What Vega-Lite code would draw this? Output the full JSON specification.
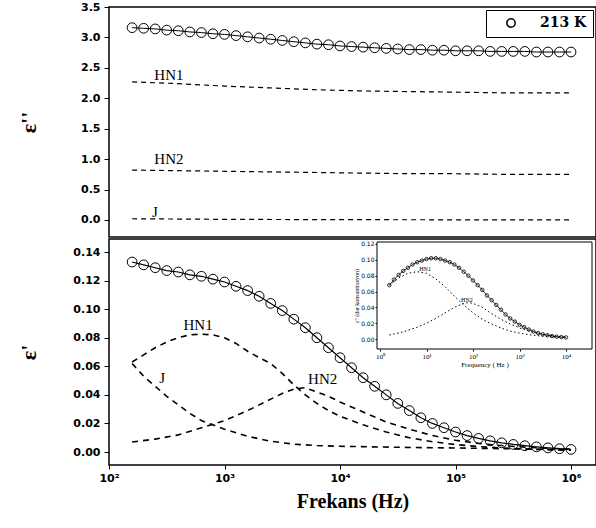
{
  "$schema": "https://vega.github.io/schema/vega-lite/v6.json",
  "padding": {"left": 16, "top": 0, "right": 2, "bottom": 5},
  "background": "white",
  "config": {
    "view": {"stroke": "black", "strokeWidth": 1.5},
    "axis": {
      "grid": false, "domainColor": "black", "tickColor": "black", "labelColor": "black",
      "titleColor": "black", "labelFont": "DejaVu Sans", "labelFontWeight": "bold", "labelFontSize": 11,
      "titleFont": "Liberation Serif", "titleFontWeight": "bold", "labelOverlap": false, "labelBound": false, "labelFlush": false
    }
  },
  "datasets": {
    "top": [
      {"f":158.5,"v":3.16,"s":"213 K"},{"f":199.5,"v":3.15,"s":"213 K"},{"f":251.2,"v":3.14,"s":"213 K"},{"f":316.2,"v":3.12,"s":"213 K"},
      {"f":398.1,"v":3.11,"s":"213 K"},{"f":501.2,"v":3.09,"s":"213 K"},{"f":631,"v":3.08,"s":"213 K"},{"f":794.3,"v":3.06,"s":"213 K"},
      {"f":1000,"v":3.05,"s":"213 K"},{"f":1259,"v":3.03,"s":"213 K"},{"f":1585,"v":3.01,"s":"213 K"},{"f":1995,"v":2.99,"s":"213 K"},
      {"f":2512,"v":2.97,"s":"213 K"},{"f":3162,"v":2.95,"s":"213 K"},{"f":3981,"v":2.93,"s":"213 K"},{"f":5012,"v":2.91,"s":"213 K"},
      {"f":6310,"v":2.89,"s":"213 K"},{"f":7943,"v":2.88,"s":"213 K"},{"f":10000,"v":2.86,"s":"213 K"},{"f":12589,"v":2.85,"s":"213 K"},
      {"f":15849,"v":2.84,"s":"213 K"},{"f":19953,"v":2.83,"s":"213 K"},{"f":25119,"v":2.82,"s":"213 K"},{"f":31623,"v":2.81,"s":"213 K"},
      {"f":39811,"v":2.8,"s":"213 K"},{"f":50119,"v":2.8,"s":"213 K"},{"f":63096,"v":2.79,"s":"213 K"},{"f":79433,"v":2.79,"s":"213 K"},
      {"f":100000,"v":2.78,"s":"213 K"},{"f":125893,"v":2.78,"s":"213 K"},{"f":158489,"v":2.78,"s":"213 K"},{"f":199526,"v":2.77,"s":"213 K"},
      {"f":251189,"v":2.77,"s":"213 K"},{"f":316228,"v":2.77,"s":"213 K"},{"f":398107,"v":2.77,"s":"213 K"},{"f":501187,"v":2.76,"s":"213 K"},
      {"f":630957,"v":2.76,"s":"213 K"},{"f":794328,"v":2.76,"s":"213 K"},{"f":1000000,"v":2.76,"s":"213 K"},
      {"f":158.5,"v":2.27,"s":"HN1"},{"f":398.1,"v":2.24,"s":"HN1"},{"f":1000,"v":2.2,"s":"HN1"},{"f":2512,"v":2.17,"s":"HN1"},
      {"f":6310,"v":2.14,"s":"HN1"},{"f":15849,"v":2.12,"s":"HN1"},{"f":39811,"v":2.11,"s":"HN1"},{"f":100000,"v":2.1,"s":"HN1"},
      {"f":251189,"v":2.09,"s":"HN1"},{"f":1000000,"v":2.09,"s":"HN1"},
      {"f":158.5,"v":0.82,"s":"HN2"},{"f":398.1,"v":0.81,"s":"HN2"},{"f":1000,"v":0.8,"s":"HN2"},{"f":2512,"v":0.79,"s":"HN2"},
      {"f":6310,"v":0.78,"s":"HN2"},{"f":15849,"v":0.77,"s":"HN2"},{"f":39811,"v":0.76,"s":"HN2"},{"f":100000,"v":0.76,"s":"HN2"},
      {"f":251189,"v":0.75,"s":"HN2"},{"f":1000000,"v":0.75,"s":"HN2"},
      {"f":158.5,"v":0.02,"s":"J"},{"f":1000,"v":0.01,"s":"J"},{"f":10000,"v":0.005,"s":"J"},{"f":1000000,"v":0.0,"s":"J"}
    ],
    "topLab": [
      {"f":330,"v":2.38,"t":"HN1"},{"f":330,"v":1.0,"t":"HN2"},{"f":250,"v":0.13,"t":"J"}
    ],
    "bot": [
      {"f":158.5,"v":0.133,"s":"exp"},{"f":199.5,"v":0.131,"s":"exp"},{"f":251.2,"v":0.129,"s":"exp"},{"f":316.2,"v":0.127,"s":"exp"},
      {"f":398.1,"v":0.126,"s":"exp"},{"f":501.2,"v":0.124,"s":"exp"},{"f":631,"v":0.123,"s":"exp"},{"f":794.3,"v":0.121,"s":"exp"},
      {"f":1000,"v":0.119,"s":"exp"},{"f":1259,"v":0.116,"s":"exp"},{"f":1585,"v":0.113,"s":"exp"},{"f":1995,"v":0.109,"s":"exp"},
      {"f":2512,"v":0.104,"s":"exp"},{"f":3162,"v":0.099,"s":"exp"},{"f":3981,"v":0.093,"s":"exp"},{"f":5012,"v":0.087,"s":"exp"},
      {"f":6310,"v":0.08,"s":"exp"},{"f":7943,"v":0.073,"s":"exp"},{"f":10000,"v":0.066,"s":"exp"},{"f":12589,"v":0.059,"s":"exp"},
      {"f":15849,"v":0.052,"s":"exp"},{"f":19953,"v":0.046,"s":"exp"},{"f":25119,"v":0.04,"s":"exp"},{"f":31623,"v":0.034,"s":"exp"},
      {"f":39811,"v":0.029,"s":"exp"},{"f":50119,"v":0.024,"s":"exp"},{"f":63096,"v":0.02,"s":"exp"},{"f":79433,"v":0.017,"s":"exp"},
      {"f":100000,"v":0.014,"s":"exp"},{"f":125893,"v":0.0115,"s":"exp"},{"f":158489,"v":0.0095,"s":"exp"},{"f":199526,"v":0.0078,"s":"exp"},
      {"f":251189,"v":0.0064,"s":"exp"},{"f":316228,"v":0.0053,"s":"exp"},{"f":398107,"v":0.0044,"s":"exp"},{"f":501187,"v":0.0036,"s":"exp"},
      {"f":630957,"v":0.0029,"s":"exp"},{"f":794328,"v":0.0023,"s":"exp"},{"f":1000000,"v":0.0018,"s":"exp"},
      {"f":158.5,"v":0.063,"s":"HN1"},{"f":199.5,"v":0.068,"s":"HN1"},{"f":251.2,"v":0.073,"s":"HN1"},{"f":316.2,"v":0.077,"s":"HN1"},
      {"f":398.1,"v":0.08,"s":"HN1"},{"f":501.2,"v":0.082,"s":"HN1"},{"f":631,"v":0.0825,"s":"HN1"},{"f":794.3,"v":0.082,"s":"HN1"},
      {"f":1000,"v":0.08,"s":"HN1"},{"f":1259,"v":0.076,"s":"HN1"},{"f":1585,"v":0.0705,"s":"HN1"},{"f":1995,"v":0.066,"s":"HN1"},
      {"f":2512,"v":0.062,"s":"HN1"},{"f":3162,"v":0.055,"s":"HN1"},{"f":3981,"v":0.047,"s":"HN1"},{"f":5012,"v":0.04,"s":"HN1"},
      {"f":6310,"v":0.034,"s":"HN1"},{"f":7943,"v":0.029,"s":"HN1"},{"f":10000,"v":0.025,"s":"HN1"},{"f":15849,"v":0.019,"s":"HN1"},
      {"f":25119,"v":0.014,"s":"HN1"},{"f":39811,"v":0.01,"s":"HN1"},{"f":63096,"v":0.0072,"s":"HN1"},{"f":100000,"v":0.0052,"s":"HN1"},
      {"f":158489,"v":0.0038,"s":"HN1"},{"f":251189,"v":0.0028,"s":"HN1"},{"f":398107,"v":0.0021,"s":"HN1"},{"f":630957,"v":0.0016,"s":"HN1"},
      {"f":1000000,"v":0.0012,"s":"HN1"},
      {"f":158.5,"v":0.007,"s":"HN2"},{"f":251.2,"v":0.009,"s":"HN2"},{"f":398.1,"v":0.012,"s":"HN2"},{"f":631,"v":0.017,"s":"HN2"},
      {"f":1000,"v":0.022,"s":"HN2"},{"f":1585,"v":0.029,"s":"HN2"},{"f":2512,"v":0.037,"s":"HN2"},{"f":3162,"v":0.041,"s":"HN2"},
      {"f":3981,"v":0.044,"s":"HN2"},{"f":5012,"v":0.045,"s":"HN2"},{"f":6310,"v":0.042,"s":"HN2"},{"f":7943,"v":0.039,"s":"HN2"},
      {"f":10000,"v":0.035,"s":"HN2"},{"f":15849,"v":0.028,"s":"HN2"},{"f":25119,"v":0.021,"s":"HN2"},{"f":39811,"v":0.016,"s":"HN2"},
      {"f":63096,"v":0.0115,"s":"HN2"},{"f":100000,"v":0.0082,"s":"HN2"},{"f":158489,"v":0.006,"s":"HN2"},{"f":251189,"v":0.0045,"s":"HN2"},
      {"f":398107,"v":0.0034,"s":"HN2"},{"f":630957,"v":0.0026,"s":"HN2"},{"f":1000000,"v":0.002,"s":"HN2"},
      {"f":158.5,"v":0.062,"s":"J"},{"f":199.5,"v":0.053,"s":"J"},{"f":251.2,"v":0.046,"s":"J"},{"f":316.2,"v":0.039,"s":"J"},
      {"f":398.1,"v":0.033,"s":"J"},{"f":501.2,"v":0.027,"s":"J"},{"f":631,"v":0.022,"s":"J"},{"f":794.3,"v":0.019,"s":"J"},
      {"f":1000,"v":0.016,"s":"J"},{"f":1585,"v":0.011,"s":"J"},{"f":2512,"v":0.0075,"s":"J"},{"f":3981,"v":0.0055,"s":"J"},
      {"f":6310,"v":0.0045,"s":"J"},{"f":10000,"v":0.004,"s":"J"},{"f":31623,"v":0.0033,"s":"J"},{"f":100000,"v":0.0028,"s":"J"},
      {"f":316228,"v":0.0022,"s":"J"},{"f":1000000,"v":0.0016,"s":"J"}
    ],
    "botLab": [
      {"f":590,"v":0.089,"t":"HN1"},{"f":288,"v":0.0518,"t":"J"},{"f":7080,"v":0.0511,"t":"HN2"}
    ],
    "ins": [
      {"f":1.585,"v":0.068,"s":"exp"},{"f":1.995,"v":0.075,"s":"exp"},{"f":2.512,"v":0.081,"s":"exp"},{"f":3.162,"v":0.086,"s":"exp"},
      {"f":3.981,"v":0.09,"s":"exp"},{"f":5.012,"v":0.094,"s":"exp"},{"f":6.31,"v":0.097,"s":"exp"},{"f":7.943,"v":0.099,"s":"exp"},
      {"f":10,"v":0.101,"s":"exp"},{"f":12.59,"v":0.102,"s":"exp"},{"f":15.85,"v":0.102,"s":"exp"},{"f":19.95,"v":0.101,"s":"exp"},
      {"f":25.12,"v":0.099,"s":"exp"},{"f":31.62,"v":0.097,"s":"exp"},{"f":39.81,"v":0.094,"s":"exp"},{"f":50.12,"v":0.09,"s":"exp"},
      {"f":63.1,"v":0.085,"s":"exp"},{"f":79.43,"v":0.08,"s":"exp"},{"f":100,"v":0.074,"s":"exp"},{"f":125.9,"v":0.068,"s":"exp"},
      {"f":158.5,"v":0.062,"s":"exp"},{"f":199.5,"v":0.055,"s":"exp"},{"f":251.2,"v":0.049,"s":"exp"},{"f":316.2,"v":0.043,"s":"exp"},
      {"f":398.1,"v":0.037,"s":"exp"},{"f":501.2,"v":0.031,"s":"exp"},{"f":631,"v":0.026,"s":"exp"},{"f":794.3,"v":0.022,"s":"exp"},
      {"f":1000,"v":0.018,"s":"exp"},{"f":1259,"v":0.015,"s":"exp"},{"f":1585,"v":0.012,"s":"exp"},{"f":1995,"v":0.0095,"s":"exp"},
      {"f":2512,"v":0.0075,"s":"exp"},{"f":3162,"v":0.006,"s":"exp"},{"f":3981,"v":0.0048,"s":"exp"},{"f":5012,"v":0.0038,"s":"exp"},
      {"f":6310,"v":0.003,"s":"exp"},{"f":7943,"v":0.0024,"s":"exp"},{"f":10000,"v":0.002,"s":"exp"},
      {"f":1.585,"v":0.068,"s":"HN1"},{"f":2.512,"v":0.077,"s":"HN1"},{"f":3.981,"v":0.083,"s":"HN1"},{"f":6.31,"v":0.085,"s":"HN1"},
      {"f":10,"v":0.083,"s":"HN1"},{"f":15.85,"v":0.076,"s":"HN1"},{"f":25.12,"v":0.066,"s":"HN1"},{"f":39.81,"v":0.054,"s":"HN1"},
      {"f":63.1,"v":0.043,"s":"HN1"},{"f":100,"v":0.033,"s":"HN1"},{"f":158.5,"v":0.025,"s":"HN1"},{"f":251.2,"v":0.019,"s":"HN1"},
      {"f":398.1,"v":0.014,"s":"HN1"},{"f":631,"v":0.01,"s":"HN1"},{"f":1000,"v":0.0075,"s":"HN1"},{"f":1585,"v":0.0055,"s":"HN1"},
      {"f":3162,"v":0.0035,"s":"HN1"},{"f":6310,"v":0.0022,"s":"HN1"},{"f":10000,"v":0.0017,"s":"HN1"},
      {"f":1.585,"v":0.005,"s":"HN2"},{"f":3.162,"v":0.009,"s":"HN2"},{"f":6.31,"v":0.015,"s":"HN2"},{"f":10,"v":0.02,"s":"HN2"},
      {"f":15.85,"v":0.026,"s":"HN2"},{"f":25.12,"v":0.033,"s":"HN2"},{"f":39.81,"v":0.04,"s":"HN2"},{"f":63.1,"v":0.045,"s":"HN2"},
      {"f":79.43,"v":0.046,"s":"HN2"},{"f":100,"v":0.045,"s":"HN2"},{"f":158.5,"v":0.04,"s":"HN2"},{"f":251.2,"v":0.032,"s":"HN2"},
      {"f":398.1,"v":0.025,"s":"HN2"},{"f":631,"v":0.019,"s":"HN2"},{"f":1000,"v":0.014,"s":"HN2"},{"f":1585,"v":0.01,"s":"HN2"},
      {"f":2512,"v":0.007,"s":"HN2"},{"f":3981,"v":0.005,"s":"HN2"},{"f":6310,"v":0.0035,"s":"HN2"},{"f":10000,"v":0.0025,"s":"HN2"}
    ],
    "insLab": [
      {"f":9.3,"v":0.088,"t":"HN1"},{"f":74,"v":0.0493,"t":"HN2"}
    ],
    "insFrame": [
      {"x1":0.862,"x2":36200,"y1":-0.0126,"y2":0.1225}
    ]
  },
  "spacing": 0,
  "resolve": {"scale": {"x": "independent", "y": "independent"}},
  "vconcat": [
    {
      "width": 487, "height": 230,
      "layer": [
        {
          "data": {"name": "top"},
          "transform": [{"filter": "datum.s != '213 K'"}],
          "mark": {"type": "line", "color": "black", "strokeWidth": 1.2, "strokeDash": [5, 4]},
          "encoding": {
            "x": {"field": "f", "type": "quantitative", "scale": {"type": "log", "domain": [100, 1645000], "nice": false}, "axis": null},
            "y": {"field": "v", "type": "quantitative", "scale": {"domain": [-0.28, 3.5], "nice": false, "zero": false},
                  "axis": {"values": [0, 0.5, 1, 1.5, 2, 2.5, 3, 3.5], "tickCount": 30, "format": ".1f", "title": "ε''", "titleFontSize": 22,
                           "labelOverlap": false, "tickSize": 5, "labelPadding": 4, "minExtent": 50, "maxExtent": 50, "titlePadding": 19, "domain": false}},
            "detail": {"field": "s"}
          }
        },
        {
          "data": {"name": "top"},
          "transform": [{"filter": "datum.s == '213 K'"}],
          "mark": {"type": "line", "color": "black", "strokeWidth": 1},
          "encoding": {
            "x": {"field": "f", "type": "quantitative"},
            "y": {"field": "v", "type": "quantitative"}
          }
        },
        {
          "data": {"name": "top"},
          "transform": [{"filter": "datum.s == '213 K'"}],
          "mark": {"type": "point", "filled": false, "size": 95, "strokeWidth": 1, "opacity": 1},
          "encoding": {
            "x": {"field": "f", "type": "quantitative"},
            "y": {"field": "v", "type": "quantitative"},
            "color": {"field": "s", "type": "nominal", "scale": {"range": ["black"]},
                      "legend": {"orient": "top-right", "title": null, "offset": 3, "strokeColor": "black", "padding": 6,
                                 "symbolType": "circle", "symbolSize": 70, "symbolStrokeWidth": 1.5, "symbolOffset": 12,
                                 "labelOffset": 22, "labelFont": "DejaVu Serif", "labelFontWeight": "bold", "labelFontSize": 14,
                                 "labelColor": "black"}}
          }
        },
        {
          "data": {"name": "topLab"},
          "mark": {"type": "text", "font": "Liberation Serif", "fontSize": 15, "color": "black"},
          "encoding": {
            "x": {"field": "f", "type": "quantitative"},
            "y": {"field": "v", "type": "quantitative"},
            "text": {"field": "t"}
          }
        }
      ]
    },
    {
      "width": 487, "height": 226,
      "resolve": {"scale": {"x": "independent", "y": "independent"}},
      "layer": [
        {
          "layer": [
            {
              "data": {"name": "bot"},
              "transform": [{"filter": "datum.s != 'exp'"}],
              "mark": {"type": "line", "color": "black", "strokeWidth": 1.6, "strokeDash": [6, 5]},
              "encoding": {
                "x": {"field": "f", "type": "quantitative", "scale": {"type": "log", "domain": [100, 1645000], "nice": false},
                      "axis": {"values": [100, 1000, 10000, 100000, 1000000], "tickCount": 30, "title": "Frekans (Hz)", "titleFontSize": 20,
                               "labelExpr": "datum.value < 500 ? '10²' : datum.value < 5000 ? '10³' : datum.value < 50000 ? '10⁴' : datum.value < 500000 ? '10⁵' : '10⁶'",
                               "labelOverlap": false, "tickSize": 4, "labelPadding": 3, "titlePadding": 8, "domain": false, "orient": "bottom"}},
                "y": {"field": "v", "type": "quantitative", "scale": {"domain": [-0.0091, 0.1491], "nice": false, "zero": false},
                      "axis": {"values": [0, 0.02, 0.04, 0.06, 0.08, 0.1, 0.12, 0.14], "tickCount": 30, "format": ".2f", "title": "ε'", "titleFontSize": 22,
                               "labelOverlap": false, "tickSize": 5, "labelPadding": 4, "minExtent": 50, "maxExtent": 50, "titlePadding": 19, "domain": false, "orient": "left"}},
                "detail": {"field": "s"}
              }
            },
            {
              "data": {"name": "bot"},
              "transform": [{"filter": "datum.s == 'exp'"}],
              "mark": {"type": "line", "color": "black", "strokeWidth": 1.2},
              "encoding": {
                "x": {"field": "f", "type": "quantitative"},
                "y": {"field": "v", "type": "quantitative"}
              }
            },
            {
              "data": {"name": "bot"},
              "transform": [{"filter": "datum.s == 'exp'"}],
              "mark": {"type": "point", "filled": false, "size": 95, "strokeWidth": 1, "color": "black", "opacity": 1},
              "encoding": {
                "x": {"field": "f", "type": "quantitative"},
                "y": {"field": "v", "type": "quantitative"}
              }
            },
            {
              "data": {"name": "botLab"},
              "mark": {"type": "text", "font": "Liberation Serif", "fontSize": 15, "color": "black"},
              "encoding": {
                "x": {"field": "f", "type": "quantitative"},
                "y": {"field": "v", "type": "quantitative"},
                "text": {"field": "t"}
              }
            }
          ]
        },
        {
          "layer": [
            {
              "data": {"name": "insFrame"},
              "mark": {"type": "rect", "fill": "white", "stroke": "black", "strokeWidth": 1},
              "encoding": {
                "x": {"field": "x1", "type": "quantitative", "scale": {"type": "log", "domain": [0.862, 36200], "range": [268, 483], "nice": false},
                      "axis": {"orient": "bottom", "offset": -116, "values": [1, 10, 100, 1000, 10000], "tickCount": 30, "title": "Frequency ( Hz )",
                               "labelExpr": "datum.value < 5 ? '10⁰' : datum.value < 50 ? '10¹' : datum.value < 500 ? '10²' : datum.value < 5000 ? '10³' : '10⁴'",
                               "labelOverlap": false, "labelFontSize": 7, "labelFontWeight": "normal", "labelFont": "Liberation Serif", "tickSize": 2, "labelPadding": 1,
                               "titleFontSize": 7, "titleFontWeight": "normal", "titlePadding": 1, "domain": false}},
                "x2": {"field": "x2"},
                "y": {"field": "y1", "type": "quantitative", "scale": {"domain": [-0.0126, 0.1225], "range": [110, 3], "nice": false, "zero": false},
                      "axis": {"orient": "left", "offset": -268, "values": [0, 0.02, 0.04, 0.06, 0.08, 0.1, 0.12], "tickCount": 30, "format": ".2f",
                               "title": "ε'' (dar konsantrasyon)", "labelOverlap": false, "labelFontSize": 6, "labelFontWeight": "normal", "tickSize": 2, "labelPadding": 1,
                               "titleFontSize": 6, "titleFontWeight": "normal", "titlePadding": 1, "domain": false}},
                "y2": {"field": "y2"}
              }
            },
            {
              "data": {"name": "ins"},
              "transform": [{"filter": "datum.s != 'exp'"}],
              "mark": {"type": "line", "color": "black", "strokeWidth": 1, "strokeDash": [1.5, 2.5]},
              "encoding": {
                "x": {"field": "f", "type": "quantitative"},
                "y": {"field": "v", "type": "quantitative"},
                "detail": {"field": "s"}
              }
            },
            {
              "data": {"name": "ins"},
              "transform": [{"filter": "datum.s == 'exp'"}],
              "mark": {"type": "line", "color": "black", "strokeWidth": 0.8},
              "encoding": {
                "x": {"field": "f", "type": "quantitative"},
                "y": {"field": "v", "type": "quantitative"}
              }
            },
            {
              "data": {"name": "ins"},
              "transform": [{"filter": "datum.s == 'exp'"}],
              "mark": {"type": "point", "filled": false, "size": 12, "strokeWidth": 0.8, "color": "black", "opacity": 1},
              "encoding": {
                "x": {"field": "f", "type": "quantitative"},
                "y": {"field": "v", "type": "quantitative"}
              }
            },
            {
              "data": {"name": "insLab"},
              "mark": {"type": "text", "font": "Liberation Serif", "fontSize": 6, "color": "black"},
              "encoding": {
                "x": {"field": "f", "type": "quantitative"},
                "y": {"field": "v", "type": "quantitative"},
                "text": {"field": "t"}
              }
            }
          ]
        }
      ]
    }
  ]
}
